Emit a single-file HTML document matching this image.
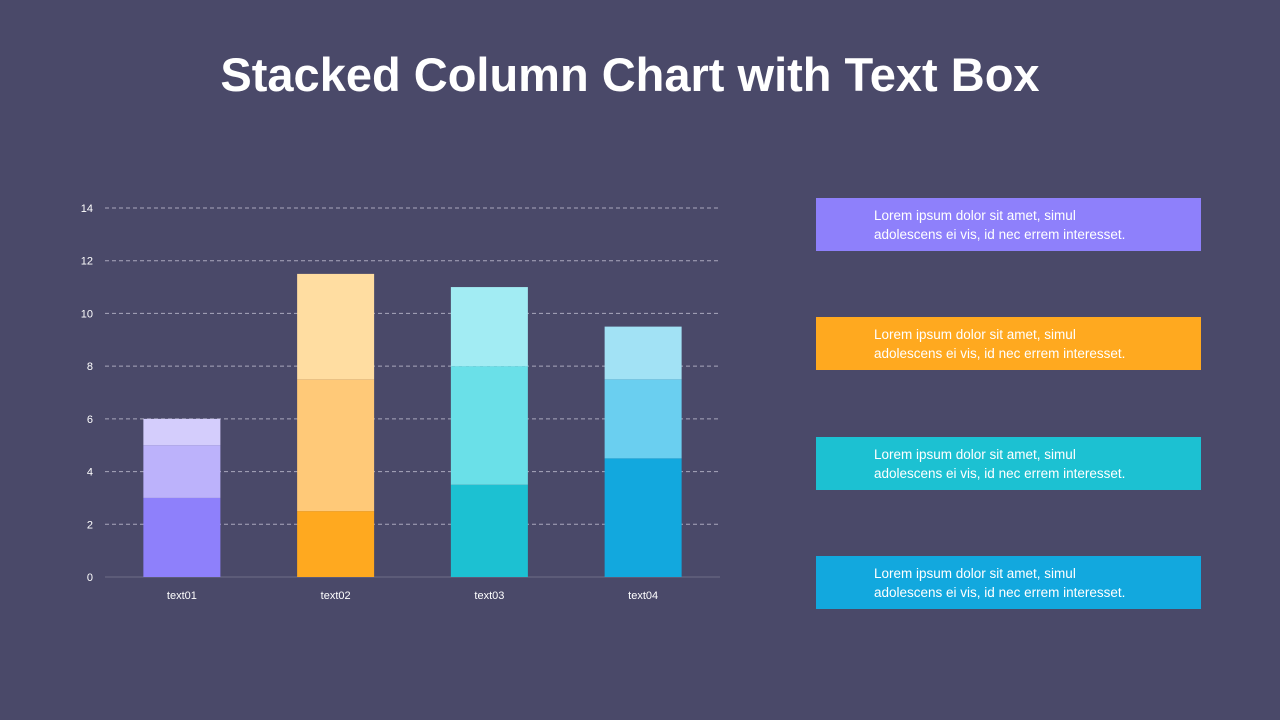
<!DOCTYPE html>
<html><head><meta charset="utf-8"><style>
body{margin:0;width:1280px;height:720px;background:#4a4969;font-family:"Liberation Sans",sans-serif;overflow:hidden;position:relative}
h1{position:absolute;left:0;width:1260px;top:47px;margin:0;text-align:center;color:#fff;font-size:47px;font-weight:bold}
.box{position:absolute;left:816px;width:385px;height:53px;color:#fff;font-size:13.5px;line-height:19px;box-sizing:border-box;padding:8px 0 0 58px}
</style></head><body>
<h1>Stacked Column Chart with Text Box</h1>
<svg id="chart" width="1280" height="720" style="position:absolute;left:0;top:0"></svg>
<div class="box" style="top:198px;background:#8e80fb">Lorem ipsum dolor sit amet, simul<br>adolescens ei vis, id nec errem interesset.</div>
<div class="box" style="top:317px;background:#ffa91f">Lorem ipsum dolor sit amet, simul<br>adolescens ei vis, id nec errem interesset.</div>
<div class="box" style="top:437px;background:#1cc1d2">Lorem ipsum dolor sit amet, simul<br>adolescens ei vis, id nec errem interesset.</div>
<div class="box" style="top:556px;background:#12a8de">Lorem ipsum dolor sit amet, simul<br>adolescens ei vis, id nec errem interesset.</div>
<script>
const categories=["text01","text02","text03","text04"];
const series1=[3,2.5,3.5,4.5];
const series2=[2,5,4.5,3];
const series3=[1,4,3,2];
const yTicks=[0,2,4,6,8,10,12,14];
const colors=[["#8e80fb","#bcb2fb","#d4cdfc"],["#ffa91f","#ffc978","#ffdda1"],["#1cc1d2","#6ae0e8","#a2ecf3"],["#12a8de","#6acff0","#a2e2f5"]];
const NS="http://www.w3.org/2000/svg";
const svg=document.getElementById('chart');
const x0=105,x1=720,y0=577,yTop=208,ymax=14;
const band=(x1-x0)/categories.length, bw=77;
function ys(v){return y0-(v/ymax)*(y0-yTop);}
function xc(i){return x0+band*(i+0.5);}
function mk(tag,a){const e=document.createElementNS(NS,tag);for(const k in a)e.setAttribute(k,a[k]);svg.appendChild(e);return e;}
yTicks.forEach(t=>{
  if(t>0){const l=mk('line',{x1:x0,x2:x1,y1:ys(t),y2:ys(t),stroke:'#a9a8bd','stroke-dasharray':'4 3','stroke-width':1});
  
  }
  const tx=mk('text',{x:93,y:ys(t)+4,fill:'#fff','font-size':11,'text-anchor':'end'});
  tx.textContent=t;
  
  
});
const ax=mk('line',{x1:x0,x2:x1,y1:y0,y2:y0,stroke:'#6e6d88','stroke-width':1});


const all=[series1,series2,series3];
categories.forEach((c,i)=>{
  let base=0;
  all.forEach((s,j)=>{
    const r=mk('rect',{x:xc(i)-bw/2,y:ys(base+s[i]),width:bw,height:ys(base)-ys(base+s[i]),fill:colors[i][j]});
    
    
    base+=s[i];
  });
  const tx=mk('text',{x:xc(i),y:599,fill:'#fff','font-size':11,'text-anchor':'middle'});
  tx.textContent=c;
  
  
});
</script>
</body></html>
